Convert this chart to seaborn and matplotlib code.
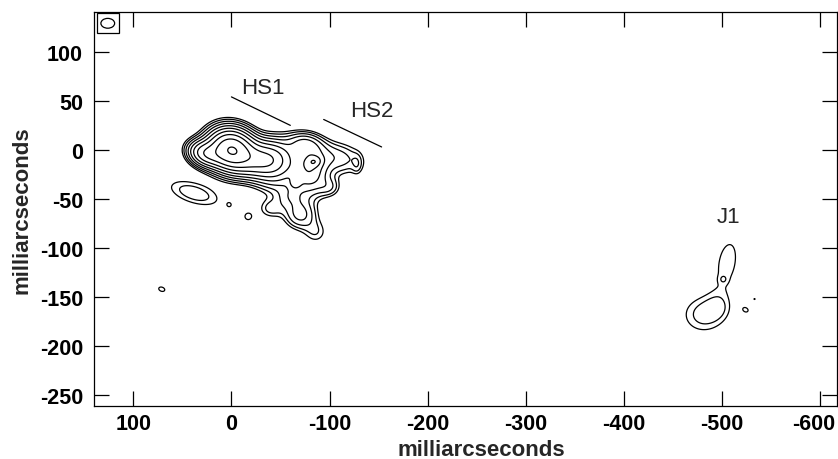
import numpy as np
import matplotlib
matplotlib.use("Agg")
import matplotlib.pyplot as plt
import matplotlib.transforms as mtrans
import seaborn as sns
from matplotlib.patches import Rectangle, Ellipse

# Gaussian components (mas): x, y, peak, sigma_major, sigma_minor, angle (deg)
comp_x = [0, 28, -30, -45, -80, -75, -108, -84, -128, -65, -60, -40, -70, -86, -100,
          38, 2, -17, 71,
          -480, -497, -505, -501, -524, -533]
comp_y = [0, -4, -10, -15, -22, 6, -8, -12, -15, -34, -48, -60, -66, -84, -38,
          -44, -56, -68, -142,
          -168, -160, -115, -132, -163, -152]
comp_amp = [22.5, 8, 8, 5.5, 5, 3.5, 2.4, 3, 0.9, 2, 1.8, 1.5, 3.1, 1.3, 1.6,
            1.8, 0.75, 1.15, 1.15,
            1.6, 0.65, 1.25, 0.5, 1.15, 1.02]
comp_sx = [15, 11, 16, 15, 12, 12, 19, 5, 3.5, 4, 10, 9, 11, 9, 8,
           22, 3, 5, 6,
           17, 10, 28, 3, 4, 2]
comp_sy = [13, 8, 11, 16, 16, 8, 11, 3.5, 7, 4, 8, 7, 10, 9, 7,
           9, 3, 5, 4,
           15, 10, 12, 3, 3, 2]
comp_pa = [20, 20, -10, 0, 0, 10, 10, -10, 0, 0, 0, 0, 0, 30, 0,
           17, 0, 0, 20,
           0, 0, 100, 0, 30, 0]

contour_levels = [1, 1.41, 2, 2.83, 4, 5.66, 8, 11.3, 16, 22.6]

x_ticks = [100, 0, -100, -200, -300, -400, -500, -600]
y_ticks = [100, 50, 0, -50, -100, -150, -200, -250]

labels = ["HS1", "HS2", "J1"]
label_x = [-32, -143, -506]
label_y = [64, 40, -68]
marker_x0 = [0, -94]
marker_y0 = [54, 31]
marker_x1 = [-60, -153]
marker_y1 = [25, 3]

beam_x, beam_y, beam_w, beam_h = 126, 129, 14, 10

sns.set_style("ticks")
plt.rcParams["font.family"] = ["Liberation Sans", "DejaVu Sans"]
plt.rcParams["axes.unicode_minus"] = False

xs = np.arange(145, -625, -0.7)
ys = np.arange(-265, 145, 0.7)
X, Y = np.meshgrid(xs, ys)
Z = np.zeros_like(X)
for cx, cy, a, sx, sy, pa in zip(comp_x, comp_y, comp_amp, comp_sx, comp_sy, comp_pa):
    t = np.deg2rad(pa)
    u = (X - cx) * np.cos(t) + (Y - cy) * np.sin(t)
    v = -(X - cx) * np.sin(t) + (Y - cy) * np.cos(t)
    Z += a * np.exp(-0.5 * ((u / sx) ** 2 + (v / sy) ** 2))

fig = plt.figure(figsize=(8.38, 4.6), dpi=100)
ax = fig.add_axes([0.1122, 0.1152, 0.8866, 0.8565])
ax.contour(X, Y, Z, levels=contour_levels, colors="black", linewidths=0.9)

for name, lx, ly in zip(labels, label_x, label_y):
    ax.text(lx, ly, name, fontsize=16, ha="center", va="center")
for x0, y0, x1, y1 in zip(marker_x0, marker_y0, marker_x1, marker_y1):
    ax.plot([x0, x1], [y0, y1], color="black", lw=0.9)

ax.add_patch(Rectangle((136.5, 119), -21.5, 20.5, fill=False, ec="black", lw=0.9))
ax.add_patch(Ellipse((beam_x, beam_y), beam_w, beam_h, fill=False, ec="black", lw=0.9))

ax.set_xlim(140, -617)
ax.set_ylim(-261, 140.5)
ax.set_xticks(x_ticks)
ax.set_yticks(y_ticks)
ax.tick_params(direction="in", length=11, width=0.9, top=True, right=True,
               labelsize=15.5, colors="black")
ax.tick_params(axis="x", pad=5)
ax.tick_params(axis="y", pad=8)
for lab in ax.get_xticklabels() + ax.get_yticklabels():
    lab.set_fontweight("bold")
# last x label sits a touch left of its tick, as in the original
last = ax.get_xticklabels()[-1]
last.set_transform(last.get_transform() + mtrans.ScaledTranslation(-5 / 72, 0, fig.dpi_scale_trans))
for s in ax.spines.values():
    s.set_linewidth(0.9)
    s.set_color("black")
ax.set_xlabel("milliarcseconds", fontsize=16, fontweight="bold")
ax.set_ylabel("milliarcseconds", fontsize=16, fontweight="bold")
ax.xaxis.set_label_coords(0.521, -0.083)
ax.yaxis.set_label_coords(-0.083, 0.5)

fig.savefig("out.png", dpi=100)
